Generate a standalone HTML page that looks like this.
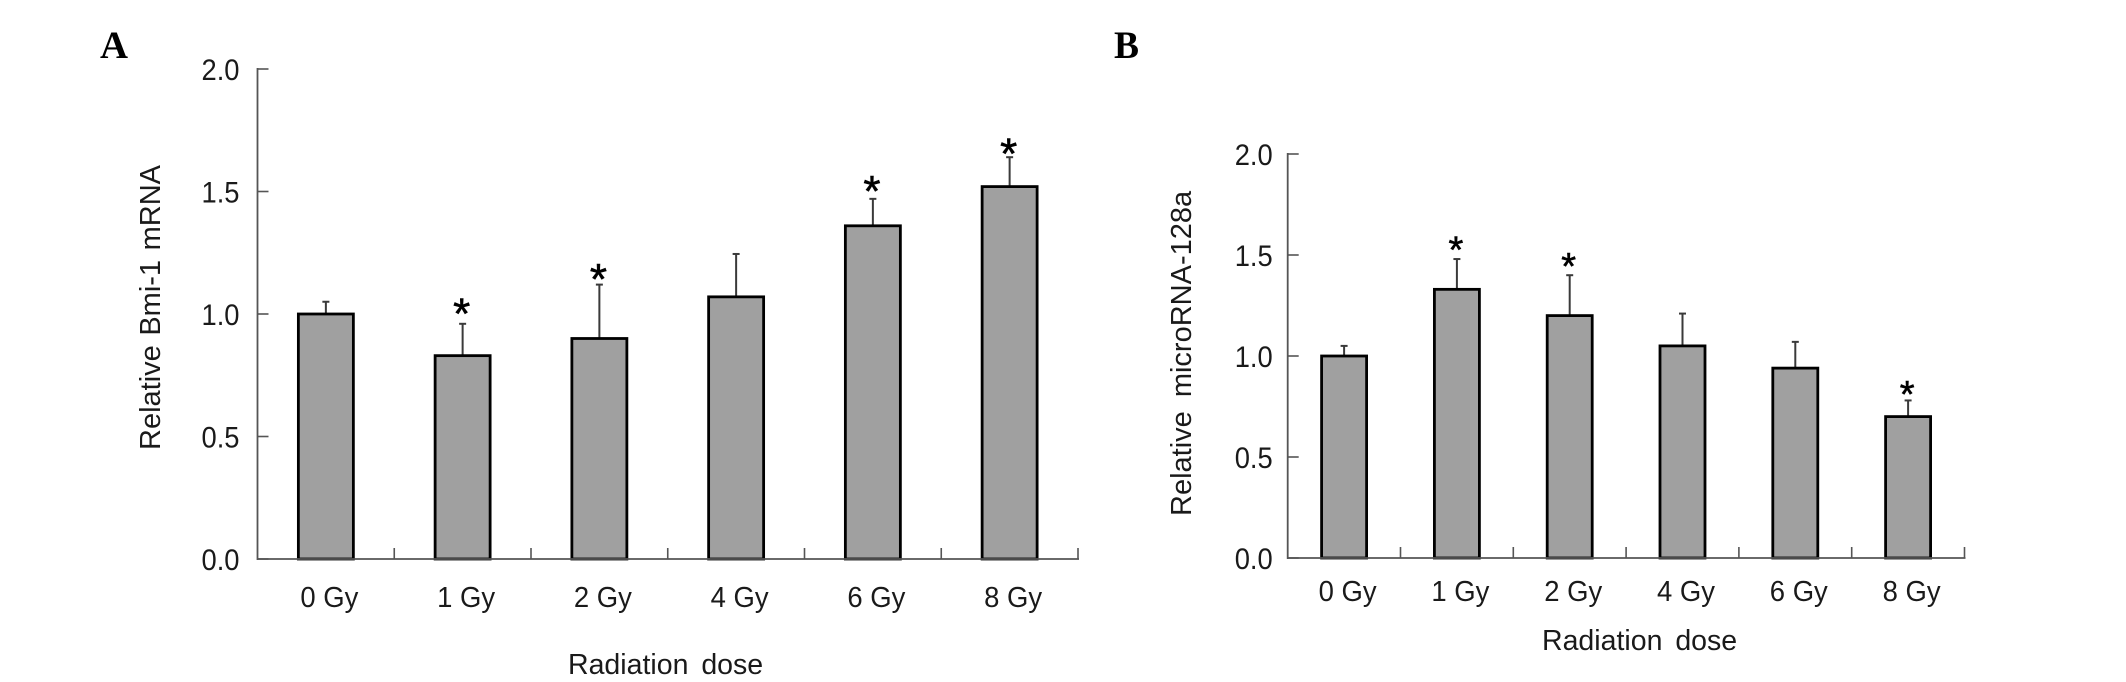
<!DOCTYPE html>
<html lang="en">
<head>
<meta charset="utf-8">
<title>Relative Bmi-1 mRNA and microRNA-128a by radiation dose</title>
<style>
html,body{margin:0;padding:0;background:#fff;width:2126px;height:682px;overflow:hidden}
svg{display:block}
text{font-family:"Liberation Sans",Arial,sans-serif;fill:#1a1a1a}
.panel{font-family:"Liberation Serif","Times New Roman",serif;font-weight:bold;fill:#000}
</style>
</head>
<body>
<svg id="figure" xmlns="http://www.w3.org/2000/svg" width="2126" height="682" viewBox="0 0 2126 682">
  <rect x="0" y="0" width="2126" height="682" fill="#ffffff"/>
  <text class="panel" x="100" y="58" font-size="39" textLength="28" lengthAdjust="spacingAndGlyphs">A</text>
  <text class="panel" x="1114" y="58" font-size="39" textLength="25" lengthAdjust="spacingAndGlyphs">B</text>
  <g id="chartA">
    <text transform="translate(160,450) rotate(-90)" font-size="29" word-spacing="1.5">Relative Bmi-1 mRNA</text>
    <text x="568" y="674" font-size="28.5" word-spacing="5">Radiation dose</text>
  </g>
  <g id="chartB">
    <text transform="translate(1191,516) rotate(-90)" font-size="29" word-spacing="6">Relative microRNA-128a</text>
    <text x="1542" y="650" font-size="28.5" word-spacing="5">Radiation dose</text>
  </g>
</svg>
<script>
const categories = ['0 Gy', '1 Gy', '2 Gy', '4 Gy', '6 Gy', '8 Gy'];
const yTickLabels = ['0.0', '0.5', '1.0', '1.5', '2.0'];
const bmiValues = [1.0, 0.83, 0.90, 1.07, 1.36, 1.52];
const bmiErrorTops = [1.05, 0.96, 1.12, 1.245, 1.47, 1.64];
const bmiSignificant = [false, true, true, false, true, true];
const bmiStarGaps = [0, 0.06, 0.04, 0, 0.05, 0.033];
const mirValues = [1.0, 1.33, 1.20, 1.05, 0.94, 0.70];
const mirErrorTops = [1.05, 1.48, 1.40, 1.21, 1.07, 0.78];
const mirSignificant = [false, true, true, false, false, true];
const mirStarGaps = [0, 0.065, 0.065, 0, 0, 0.05];

const NS = 'http://www.w3.org/2000/svg';
function make(tag, parent, attrs) {
  const el = document.createElementNS(NS, tag);
  for (const k in attrs) el.setAttribute(k, attrs[k]);
  parent.appendChild(el);
  return el;
}
function drawChart(root, cfg, values, errorTops, significant, starGaps) {
  const yMax = 2;
  const yScale = v => cfg.y0 - (v / yMax) * (cfg.y0 - cfg.yTop);
  const bandW = (cfg.x1 - cfg.x0) / categories.length;
  const xCenter = i => cfg.x0 + bandW * (i + 0.5);
  const axisColor = '#555555';

  categories.forEach((cat, i) => {
    const cx = xCenter(i);
    const top = yScale(values[i]);
    const errY = yScale(errorTops[i]);

    const err = make('line', root, { x1: cx, x2: cx, y1: top, y2: errY, stroke: '#3a3a3a', 'stroke-width': 2 });
    
    
    const cap = make('line', root, { x1: cx - 3.5, x2: cx + 3.5, y1: errY, y2: errY, stroke: '#3a3a3a', 'stroke-width': 2 });
    
    

    const bar = make('rect', root, { x: cx - cfg.barW / 2, y: top, width: cfg.barW, height: cfg.y0 - top, fill: '#a0a0a0', stroke: '#000000', 'stroke-width': 2.8 });
    
    

    if (significant[i]) {
      const star = make('text', root, { x: cx - 1, y: yScale(errorTops[i] + starGaps[i]) + cfg.starSize * 0.44, 'font-size': cfg.starSize, 'text-anchor': 'middle', style: 'fill:#000;stroke:#000;stroke-width:0.6px' });
      star.textContent = '*';
      
      
    }

    const label = make('text', root, { x: cx + 3.5, y: cfg.catY, 'font-size': 29, 'text-anchor': 'middle', textLength: 58, lengthAdjust: 'spacingAndGlyphs' });
    label.textContent = cat;
    
    

    const tx = cfg.x0 + bandW * (i + 1);
    const tick = make('line', root, { x1: tx, x2: tx, y1: cfg.y0, y2: cfg.y0 - 11, stroke: axisColor, 'stroke-width': 1.6 });
    
    
  });

  yTickLabels.forEach(lbl => {
    const y = yScale(parseFloat(lbl));
    const tick = make('line', root, { x1: cfg.x0, x2: cfg.x0 + 11, y1: y, y2: y, stroke: axisColor, 'stroke-width': 1.6 });
    
    
    const t = make('text', root, { x: cfg.x0 - cfg.labelGap - 38, y: y + 11, 'font-size': 30, textLength: 38, lengthAdjust: 'spacingAndGlyphs' });
    t.textContent = lbl;
    
    
  });

  const yAxis = make('line', root, { x1: cfg.x0, x2: cfg.x0, y1: cfg.yTop - 1, y2: cfg.y0 + 1, stroke: axisColor, 'stroke-width': 1.8 });
  
  
  const xAxis = make('line', root, { x1: cfg.x0, x2: cfg.x1 + 1, y1: cfg.y0, y2: cfg.y0, stroke: axisColor, 'stroke-width': 1.8 });
  
  
}

drawChart(document.getElementById('chartA'),
  { x0: 257.5, x1: 1078, y0: 559, yTop: 69, barW: 55, catY: 607, starSize: 44, labelGap: 18 },
  bmiValues, bmiErrorTops, bmiSignificant, bmiStarGaps);
drawChart(document.getElementById('chartB'),
  { x0: 1287.7, x1: 1964.5, y0: 558, yTop: 154, barW: 45, catY: 601, starSize: 38, labelGap: 15 },
  mirValues, mirErrorTops, mirSignificant, mirStarGaps);
</script>
</body>
</html>
